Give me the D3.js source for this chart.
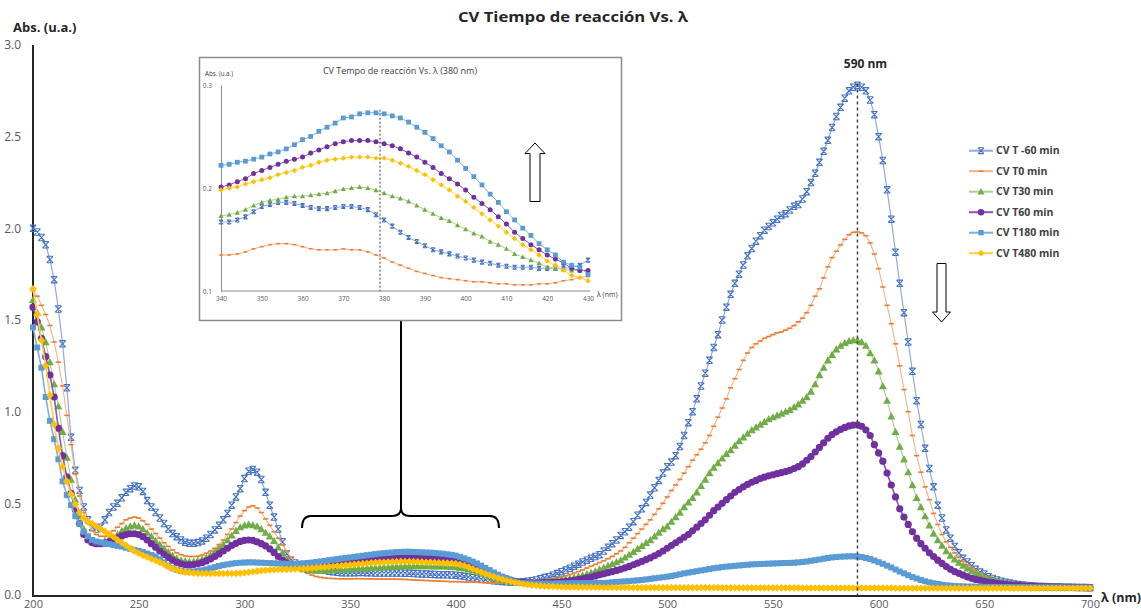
<!DOCTYPE html>
<html>
<head>
<meta charset="utf-8">
<title>CV Tiempo de reacción Vs. λ</title>
<script src="https://cdn.jsdelivr.net/npm/d3@7"></script>
<style>
  body {margin: 0; background: #fff;}
  text {font-family: "Open Sans", sans-serif;}
</style>
</head>
<body>
<script>
  // wavelengths: main spectrum 200-700 nm, inset 340-430 nm (every 2 nm)
  var wl = d3.range(200, 702, 2);
  var insetWl = d3.range(340, 432, 2);

  var xTicks = [200, 250, 300, 350, 400, 450, 500, 550, 600, 650, 700];
  var yTicks = [0, 0.5, 1.0, 1.5, 2.0, 2.5, 3.0];
  var insetXTicks = [340, 350, 360, 370, 380, 390, 400, 410, 420, 430];
  var insetYTicks = [0.1, 0.2, 0.3];

  var seriesNames = ["CV T -60 min", "CV T0 min", "CV T30 min", "CV T60 min", "CV T180 min", "CV T480 min"];

  // absorbance, main chart (rows of 20 nm)
  var absTm60 = [
    2.00, 1.98, 1.95, 1.91, 1.83, 1.72, 1.56, 1.37, 1.13, 0.86,
    0.68, 0.57, 0.48, 0.41, 0.37, 0.36, 0.37, 0.41, 0.45, 0.48,
    0.50, 0.53, 0.56, 0.58, 0.595, 0.59, 0.565, 0.515, 0.48, 0.45,
    0.42, 0.39, 0.36, 0.335, 0.318, 0.30, 0.288, 0.282, 0.282, 0.286,
    0.295, 0.31, 0.33, 0.355, 0.38, 0.41, 0.445, 0.49, 0.535, 0.58,
    0.635, 0.675, 0.685, 0.67, 0.63, 0.56, 0.49, 0.425, 0.36, 0.29,
    0.225, 0.19, 0.175, 0.165, 0.16, 0.155, 0.15, 0.145, 0.14, 0.135,
    0.13, 0.127, 0.124, 0.122, 0.121, 0.121, 0.122, 0.123, 0.123, 0.122,
    0.121, 0.12, 0.12, 0.12, 0.12, 0.12, 0.12, 0.12, 0.119, 0.118,
    0.117, 0.116, 0.115, 0.114, 0.113, 0.112, 0.111, 0.11, 0.11, 0.109,
    0.108, 0.105, 0.102, 0.098, 0.094, 0.09, 0.087, 0.084, 0.081, 0.078,
    0.076, 0.074, 0.072, 0.07, 0.07, 0.07, 0.072, 0.075, 0.078, 0.082,
    0.088, 0.095, 0.10, 0.108, 0.117, 0.127, 0.136, 0.146, 0.157, 0.168,
    0.18, 0.19, 0.20, 0.21, 0.22, 0.24, 0.26, 0.28, 0.30, 0.325,
    0.345, 0.37, 0.40, 0.435, 0.47, 0.505, 0.545, 0.585, 0.625, 0.665,
    0.70, 0.725, 0.76, 0.81, 0.87, 0.94, 1.00, 1.07, 1.14, 1.21,
    1.28, 1.35, 1.42, 1.50, 1.57, 1.64, 1.70, 1.75, 1.80, 1.85,
    1.89, 1.93, 1.96, 1.99, 2.01, 2.03, 2.05, 2.07, 2.08, 2.10,
    2.12, 2.13, 2.16, 2.20, 2.25, 2.30, 2.36, 2.42, 2.48, 2.55,
    2.61, 2.66, 2.71, 2.75, 2.77, 2.78, 2.77, 2.75, 2.70, 2.62,
    2.50, 2.37, 2.21, 2.05, 1.87, 1.70, 1.54, 1.38, 1.22, 1.06,
    0.93, 0.80, 0.69, 0.59, 0.49, 0.42, 0.355, 0.31, 0.265, 0.23,
    0.20, 0.18, 0.16, 0.14, 0.125, 0.115, 0.10, 0.09, 0.082, 0.075,
    0.07, 0.065, 0.06, 0.057, 0.054, 0.052, 0.05, 0.048, 0.047, 0.046,
    0.045, 0.044, 0.043, 0.043, 0.042, 0.042, 0.042, 0.041, 0.041, 0.041,
    0.04];

  var absT0 = [
    1.66, 1.63, 1.58, 1.53, 1.47, 1.38, 1.27, 1.14, 0.98, 0.82,
    0.66, 0.54, 0.45, 0.39, 0.35, 0.33, 0.32, 0.32, 0.33, 0.35,
    0.37, 0.39, 0.41, 0.42, 0.425, 0.42, 0.405, 0.385, 0.36, 0.335,
    0.31, 0.285, 0.265, 0.245, 0.23, 0.22, 0.213, 0.21, 0.21, 0.212,
    0.218, 0.228, 0.24, 0.255, 0.275, 0.30, 0.33, 0.36, 0.395, 0.43,
    0.46, 0.48, 0.487, 0.475, 0.45, 0.415, 0.38, 0.345, 0.31, 0.275,
    0.24, 0.205, 0.175, 0.15, 0.132, 0.118, 0.108, 0.101, 0.096, 0.093,
    0.091, 0.09, 0.089, 0.088, 0.088, 0.088, 0.089, 0.089, 0.089, 0.088,
    0.088, 0.087, 0.087, 0.087, 0.087, 0.087, 0.086, 0.086, 0.085, 0.084,
    0.082, 0.081, 0.08, 0.079, 0.078, 0.077, 0.076, 0.075, 0.074, 0.073,
    0.073, 0.072, 0.071, 0.07, 0.07, 0.069, 0.068, 0.067, 0.066, 0.066,
    0.065, 0.065, 0.066, 0.066, 0.067, 0.068, 0.07, 0.071, 0.073, 0.075,
    0.078, 0.081, 0.085, 0.089, 0.094, 0.099, 0.105, 0.112, 0.12, 0.128,
    0.137, 0.147, 0.157, 0.167, 0.177, 0.187, 0.198, 0.21, 0.225, 0.24,
    0.26, 0.285, 0.31, 0.335, 0.36, 0.385, 0.41, 0.44, 0.47, 0.50,
    0.535, 0.57, 0.60, 0.63, 0.665, 0.70, 0.735, 0.765, 0.795, 0.83,
    0.87, 0.92, 0.97, 1.02, 1.07, 1.13, 1.18, 1.23, 1.28, 1.32,
    1.35, 1.37, 1.385, 1.40, 1.41, 1.42, 1.43, 1.435, 1.445, 1.455,
    1.47, 1.49, 1.51, 1.54, 1.58, 1.63, 1.67, 1.73, 1.79, 1.84,
    1.875, 1.91, 1.94, 1.965, 1.978, 1.98, 1.975, 1.96, 1.92, 1.86,
    1.78, 1.68, 1.58, 1.48, 1.37, 1.25, 1.12, 1.00, 0.87, 0.76,
    0.67, 0.59, 0.52, 0.445, 0.385, 0.33, 0.29, 0.26, 0.23, 0.205,
    0.185, 0.165, 0.15, 0.135, 0.12, 0.105, 0.092, 0.083, 0.076, 0.07,
    0.066, 0.062, 0.059, 0.056, 0.053, 0.051, 0.049, 0.047, 0.046, 0.045,
    0.044, 0.044, 0.043, 0.043, 0.042, 0.042, 0.041, 0.041, 0.041, 0.04,
    0.04];

  var absT30 = [
    1.61, 1.54, 1.46, 1.38, 1.27, 1.15, 1.03, 0.89, 0.75, 0.63,
    0.52, 0.43, 0.36, 0.31, 0.29, 0.28, 0.285, 0.295, 0.305, 0.315,
    0.33, 0.35, 0.365, 0.375, 0.38, 0.375, 0.36, 0.34, 0.32, 0.295,
    0.275, 0.255, 0.235, 0.215, 0.20, 0.19, 0.185, 0.182, 0.183, 0.188,
    0.195, 0.205, 0.218, 0.235, 0.255, 0.275, 0.30, 0.325, 0.35, 0.37,
    0.38, 0.385, 0.382, 0.375, 0.36, 0.34, 0.32, 0.295, 0.26, 0.23,
    0.195, 0.172, 0.158, 0.148, 0.142, 0.138, 0.135, 0.134, 0.134, 0.134,
    0.135, 0.136, 0.137, 0.138, 0.14, 0.142, 0.143, 0.144, 0.146, 0.147,
    0.148, 0.149, 0.15, 0.152, 0.153, 0.155, 0.156, 0.157, 0.158, 0.158,
    0.158, 0.158, 0.158, 0.158, 0.158, 0.157, 0.157, 0.156, 0.155, 0.154,
    0.152, 0.149, 0.145, 0.14, 0.135, 0.128, 0.12, 0.112, 0.104, 0.097,
    0.09, 0.084, 0.078, 0.073, 0.07, 0.067, 0.067, 0.068, 0.069, 0.07,
    0.072, 0.074, 0.076, 0.078, 0.08, 0.083, 0.087, 0.091, 0.096, 0.102,
    0.108, 0.115, 0.123, 0.131, 0.14, 0.15, 0.16, 0.17, 0.18, 0.19,
    0.205, 0.22, 0.236, 0.252, 0.268, 0.285, 0.30, 0.32, 0.34, 0.36,
    0.375, 0.40, 0.425, 0.45, 0.48, 0.505, 0.53, 0.56, 0.595, 0.63,
    0.665, 0.695, 0.72, 0.745, 0.77, 0.79, 0.815, 0.84, 0.86, 0.88,
    0.90, 0.915, 0.93, 0.945, 0.96, 0.97, 0.98, 0.99, 1.00, 1.01,
    1.025, 1.04, 1.06, 1.08, 1.11, 1.15, 1.20, 1.24, 1.28, 1.31,
    1.34, 1.36, 1.375, 1.385, 1.39, 1.39, 1.38, 1.36, 1.32, 1.28,
    1.22, 1.14, 1.06, 0.975, 0.89, 0.81, 0.74, 0.67, 0.60, 0.53,
    0.48, 0.43, 0.38, 0.335, 0.30, 0.27, 0.24, 0.215, 0.195, 0.177,
    0.16, 0.145, 0.13, 0.118, 0.107, 0.098, 0.09, 0.083, 0.077, 0.071,
    0.067, 0.063, 0.06, 0.057, 0.054, 0.052, 0.05, 0.048, 0.047, 0.046,
    0.045, 0.044, 0.043, 0.043, 0.042, 0.042, 0.041, 0.041, 0.041, 0.04,
    0.04];

  var absT60 = [
    1.57, 1.49, 1.40, 1.30, 1.20, 1.08, 0.91, 0.76, 0.645, 0.555,
    0.465, 0.39, 0.33, 0.30, 0.285, 0.28, 0.28, 0.283, 0.29, 0.30,
    0.312, 0.322, 0.33, 0.334, 0.334, 0.33, 0.318, 0.30, 0.28, 0.26,
    0.24, 0.222, 0.205, 0.19, 0.178, 0.17, 0.165, 0.164, 0.166, 0.17,
    0.177, 0.186, 0.197, 0.21, 0.224, 0.24, 0.255, 0.27, 0.282, 0.292,
    0.298, 0.30, 0.298, 0.29, 0.28, 0.268, 0.252, 0.232, 0.21, 0.19,
    0.175, 0.165, 0.16, 0.158, 0.158, 0.16, 0.163, 0.166, 0.17, 0.173,
    0.176, 0.179, 0.181, 0.183, 0.185, 0.188, 0.19, 0.191, 0.192, 0.193,
    0.195, 0.196, 0.197, 0.198, 0.199, 0.20, 0.201, 0.202, 0.202, 0.202,
    0.201, 0.20, 0.20, 0.199, 0.199, 0.198, 0.196, 0.194, 0.192, 0.19,
    0.187, 0.182, 0.175, 0.168, 0.16, 0.151, 0.142, 0.133, 0.124, 0.115,
    0.105, 0.096, 0.088, 0.081, 0.075, 0.07, 0.068, 0.066, 0.065, 0.065,
    0.066, 0.067, 0.068, 0.069, 0.07, 0.072, 0.074, 0.077, 0.08, 0.084,
    0.088, 0.093, 0.098, 0.104, 0.11, 0.116, 0.122, 0.128, 0.134, 0.14,
    0.148, 0.156, 0.165, 0.174, 0.183, 0.193, 0.203, 0.214, 0.226, 0.24,
    0.255, 0.27, 0.285, 0.30, 0.315, 0.33, 0.35, 0.37, 0.39, 0.41,
    0.435, 0.46, 0.48, 0.50, 0.52, 0.54, 0.56, 0.575, 0.59, 0.603,
    0.615, 0.625, 0.635, 0.643, 0.65, 0.656, 0.662, 0.668, 0.673, 0.68,
    0.69, 0.70, 0.715, 0.735, 0.755, 0.78, 0.805, 0.83, 0.855, 0.875,
    0.89, 0.903, 0.914, 0.922, 0.927, 0.928, 0.92, 0.90, 0.87, 0.82,
    0.775, 0.73, 0.665, 0.60, 0.535, 0.47, 0.425, 0.385, 0.345, 0.31,
    0.28, 0.255, 0.23, 0.21, 0.19, 0.172, 0.155, 0.14, 0.128, 0.118,
    0.108, 0.099, 0.091, 0.085, 0.08, 0.075, 0.071, 0.067, 0.064, 0.061,
    0.058, 0.056, 0.054, 0.052, 0.05, 0.049, 0.048, 0.047, 0.046, 0.045,
    0.044, 0.044, 0.043, 0.043, 0.042, 0.042, 0.041, 0.041, 0.041, 0.04,
    0.04];

  var absT180 = [
    1.46, 1.35, 1.24, 1.08, 0.95, 0.85, 0.74, 0.62, 0.545, 0.49,
    0.43, 0.39, 0.345, 0.32, 0.30, 0.292, 0.287, 0.283, 0.278, 0.273,
    0.268, 0.264, 0.258, 0.252, 0.246, 0.24, 0.234, 0.226, 0.218, 0.21,
    0.195, 0.178, 0.16, 0.146, 0.137, 0.131, 0.128, 0.127, 0.128, 0.131,
    0.135, 0.14, 0.146, 0.152, 0.158, 0.163, 0.167, 0.171, 0.174, 0.176,
    0.177, 0.178, 0.178, 0.177, 0.176, 0.175, 0.174, 0.173, 0.172, 0.171,
    0.17, 0.17, 0.17, 0.171, 0.173, 0.175, 0.177, 0.18, 0.183, 0.186,
    0.19, 0.193, 0.196, 0.199, 0.202, 0.205, 0.208, 0.211, 0.214, 0.217,
    0.22, 0.223, 0.226, 0.228, 0.23, 0.232, 0.234, 0.235, 0.236, 0.236,
    0.235, 0.234, 0.233, 0.232, 0.231, 0.229, 0.227, 0.225, 0.222, 0.219,
    0.215, 0.208, 0.20, 0.192, 0.182, 0.172, 0.16, 0.148, 0.136, 0.123,
    0.111, 0.10, 0.09, 0.081, 0.073, 0.066, 0.064, 0.063, 0.062, 0.062,
    0.062, 0.062, 0.062, 0.062, 0.063, 0.063, 0.063, 0.064, 0.064, 0.064,
    0.065, 0.065, 0.065, 0.066, 0.066, 0.066, 0.067, 0.069, 0.071, 0.073,
    0.074, 0.076, 0.078, 0.08, 0.082, 0.085, 0.088, 0.091, 0.094, 0.097,
    0.10, 0.104, 0.108, 0.113, 0.118, 0.122, 0.126, 0.13, 0.134, 0.138,
    0.142, 0.146, 0.149, 0.152, 0.155, 0.157, 0.159, 0.161, 0.163, 0.165,
    0.167, 0.168, 0.169, 0.17, 0.171, 0.172, 0.173, 0.174, 0.175, 0.175,
    0.176, 0.178, 0.18, 0.183, 0.187, 0.19, 0.194, 0.198, 0.202, 0.205,
    0.207, 0.209, 0.21, 0.211, 0.211, 0.21, 0.207, 0.202, 0.196, 0.188,
    0.179, 0.17, 0.16, 0.15, 0.139, 0.128, 0.118, 0.108, 0.098, 0.09,
    0.082, 0.075, 0.069, 0.064, 0.06, 0.056, 0.053, 0.051, 0.049, 0.048,
    0.047, 0.046, 0.046, 0.045, 0.045, 0.044, 0.044, 0.044, 0.043, 0.043,
    0.043, 0.043, 0.042, 0.042, 0.042, 0.042, 0.042, 0.041, 0.041, 0.041,
    0.041, 0.041, 0.041, 0.041, 0.04, 0.04, 0.04, 0.04, 0.04, 0.04,
    0.04];

  var absT480 = [
    1.67, 1.53, 1.39, 1.25, 1.09, 0.93, 0.80, 0.70, 0.62, 0.55,
    0.495, 0.45, 0.42, 0.40, 0.39, 0.375, 0.36, 0.347, 0.333, 0.318,
    0.30, 0.285, 0.27, 0.255, 0.24, 0.228, 0.217, 0.207, 0.197, 0.188,
    0.178, 0.167, 0.155, 0.145, 0.137, 0.13, 0.125, 0.122, 0.12, 0.118,
    0.117, 0.117, 0.117, 0.117, 0.117, 0.117, 0.117, 0.117, 0.118, 0.119,
    0.121, 0.124, 0.127, 0.13, 0.133, 0.135, 0.137, 0.138, 0.139, 0.14,
    0.14, 0.141, 0.142, 0.143, 0.144, 0.145, 0.147, 0.149, 0.151, 0.153,
    0.155, 0.157, 0.159, 0.161, 0.163, 0.165, 0.167, 0.169, 0.171, 0.173,
    0.175, 0.177, 0.178, 0.179, 0.18, 0.181, 0.182, 0.183, 0.183, 0.183,
    0.182, 0.181, 0.18, 0.179, 0.178, 0.177, 0.176, 0.175, 0.174, 0.173,
    0.171, 0.166, 0.16, 0.152, 0.143, 0.134, 0.125, 0.116, 0.108, 0.10,
    0.093, 0.086, 0.079, 0.073, 0.068, 0.064, 0.06, 0.057, 0.054, 0.052,
    0.05, 0.048, 0.047, 0.046, 0.045, 0.044, 0.044, 0.043, 0.043, 0.043,
    0.042, 0.042, 0.042, 0.042, 0.042, 0.041, 0.041, 0.041, 0.041, 0.041,
    0.041, 0.041, 0.04, 0.04, 0.04, 0.04, 0.04, 0.04, 0.04, 0.04,
    0.04, 0.04, 0.04, 0.04, 0.04, 0.04, 0.04, 0.04, 0.04, 0.04,
    0.04, 0.04, 0.04, 0.039, 0.039, 0.039, 0.039, 0.039, 0.039, 0.039,
    0.039, 0.039, 0.039, 0.039, 0.039, 0.039, 0.039, 0.039, 0.039, 0.039,
    0.039, 0.039, 0.038, 0.038, 0.038, 0.038, 0.038, 0.038, 0.038, 0.038,
    0.038, 0.038, 0.038, 0.038, 0.038, 0.038, 0.038, 0.038, 0.038, 0.038,
    0.038, 0.038, 0.038, 0.038, 0.037, 0.037, 0.037, 0.037, 0.037, 0.037,
    0.037, 0.037, 0.037, 0.037, 0.037, 0.037, 0.037, 0.037, 0.037, 0.037,
    0.037, 0.037, 0.037, 0.037, 0.037, 0.037, 0.037, 0.037, 0.037, 0.037,
    0.037, 0.037, 0.037, 0.037, 0.037, 0.037, 0.037, 0.037, 0.037, 0.037,
    0.037, 0.037, 0.037, 0.037, 0.037, 0.037, 0.037, 0.037, 0.037, 0.037,
    0.037];

  // absorbance, inset 340-430 nm
  var insTm60 = [
    0.167, 0.167, 0.169, 0.172, 0.177, 0.182, 0.184, 0.186, 0.186, 0.185,
    0.183, 0.181, 0.180, 0.180, 0.181, 0.182, 0.182, 0.181, 0.179, 0.174,
    0.169, 0.163, 0.157, 0.152, 0.148, 0.144, 0.140, 0.138, 0.136, 0.134,
    0.132, 0.130, 0.128, 0.127, 0.125, 0.124, 0.123, 0.123, 0.123, 0.122,
    0.122, 0.122, 0.122, 0.123, 0.125, 0.130];
  var insT0 = [
    0.135, 0.135, 0.136, 0.138, 0.141, 0.143, 0.145, 0.146, 0.146, 0.145,
    0.143, 0.141, 0.140, 0.140, 0.140, 0.141, 0.140, 0.140, 0.138, 0.135,
    0.132, 0.128, 0.125, 0.122, 0.119, 0.117, 0.115, 0.113, 0.112, 0.111,
    0.110, 0.109, 0.109, 0.108, 0.107, 0.107, 0.106, 0.106, 0.106, 0.107,
    0.107, 0.108, 0.110, 0.111, 0.113, 0.114];
  var insT30 = [
    0.173, 0.174, 0.176, 0.179, 0.183, 0.186, 0.188, 0.189, 0.191, 0.192,
    0.192, 0.193, 0.194, 0.195, 0.197, 0.199, 0.200, 0.201, 0.200, 0.198,
    0.195, 0.192, 0.190, 0.187, 0.183, 0.179, 0.175, 0.171, 0.168, 0.164,
    0.160, 0.156, 0.153, 0.148, 0.145, 0.141, 0.136, 0.133, 0.130, 0.127,
    0.123, 0.122, 0.121, 0.120, 0.120, 0.120];
  var insT60 = [
    0.201, 0.203, 0.206, 0.209, 0.214, 0.217, 0.220, 0.223, 0.226, 0.228,
    0.230, 0.234, 0.237, 0.240, 0.243, 0.245, 0.246, 0.246, 0.246, 0.245,
    0.243, 0.241, 0.238, 0.234, 0.230, 0.225, 0.220, 0.214, 0.209, 0.204,
    0.198, 0.191, 0.185, 0.179, 0.172, 0.165, 0.157, 0.151, 0.145, 0.140,
    0.135, 0.131, 0.127, 0.122, 0.120, 0.120];
  var insT180 = [
    0.222, 0.223, 0.225, 0.226, 0.228, 0.230, 0.233, 0.235, 0.238, 0.242,
    0.247, 0.250, 0.255, 0.259, 0.263, 0.268, 0.269, 0.272, 0.273, 0.273,
    0.272, 0.270, 0.268, 0.264, 0.259, 0.254, 0.248, 0.241, 0.235, 0.227,
    0.219, 0.211, 0.203, 0.194, 0.186, 0.177, 0.169, 0.161, 0.154, 0.146,
    0.140, 0.135, 0.128, 0.125, 0.123, 0.116];
  var insT480 = [
    0.198, 0.200, 0.201, 0.204, 0.206, 0.208, 0.210, 0.213, 0.215, 0.217,
    0.220, 0.222, 0.225, 0.227, 0.228, 0.229, 0.230, 0.230, 0.230, 0.229,
    0.229, 0.227, 0.224, 0.221, 0.217, 0.213, 0.208, 0.203, 0.198, 0.192,
    0.187, 0.181, 0.175, 0.169, 0.163, 0.157, 0.151, 0.145, 0.140, 0.135,
    0.129, 0.125, 0.120, 0.115, 0.113, 0.110];

  var mainSeries = [absTm60, absT0, absT30, absT60, absT180, absT480];
  var insetSeries = [insTm60, insT0, insT30, insT60, insT180, insT480];

  // styles per series
  var lineColors = ["#8FAADC", "#F4B183", "#A9D18E", "#8A55B8", "#7DB0E0", "#FFCF40"];
  var lineWidths = [1.2, 1.1, 1.1, 1.6, 1.6, 1.6];
  var markerColors = ["#4472C4", "#ED7D31", "#70AD47", "#7030A0", "#5B9BD5", "#FFC000"];
  var markerShapes = ["x", "dash", "triangle", "circle", "square", "diamond"];
  var mainSizes = [3.2, 2.6, 4.0, 3.6, 3.0, 3.8];
  var insetSizes = [2.0, 1.8, 2.6, 2.5, 2.4, 2.7];

  var width = 1141;
  var height = 613;

  var x = d3.scaleLinear().domain([200, 700]).range([33, 1090]);
  var y = d3.scaleLinear().domain([0, 3]).range([595, 45]);

  var ix = d3.scaleLinear().domain([340, 430]).range([221, 588]);
  var iy = d3.scaleLinear().domain([0.1, 0.3]).range([291, 85]);

  function shapePath(shape, s) {
    if (shape === "x") return "M" + (-s) + "," + (-s) + "L" + s + "," + s + "M" + s + "," + (-s) + "L" + (-s) + "," + s +
                              "M" + (-s) + "," + (-s) + "H" + s + "M" + (-s) + "," + s + "H" + s;
    if (shape === "dash") return "M" + (-s) + ",-0.8H" + s + "V0.8H" + (-s) + "Z";
    if (shape === "triangle") return "M0," + (-s) + "L" + s + "," + (s * 0.8) + "H" + (-s) + "Z";
    if (shape === "circle") return d3.symbol(d3.symbolCircle, Math.PI * s * s)();
    if (shape === "square") return "M" + (-s) + "," + (-s) + "H" + s + "V" + s + "H" + (-s) + "Z";
    return "M0," + (-s) + "L" + s + ",0L0," + s + "L" + (-s) + ",0Z";
  }

  function styleMarker(sel, i) {
    if (markerShapes[i] === "x") {
      sel.attr("fill", "none").attr("stroke", markerColors[i]).attr("stroke-width", 1.1);
    } else {
      sel.attr("fill", markerColors[i]).attr("stroke", "none");
    }
  }

  var svg = d3.select("body").append("svg")
    .attr("width", width)
    .attr("height", height)
    .style("display", "block")
    .style("background", "#fff");

  // title
  svg.append("text")
    .attr("x", 573).attr("y", 22)
    .attr("text-anchor", "middle")
    .attr("font-size", 15).attr("font-weight", "bold")
    .attr("fill", "#262626")
    .attr("textLength", 230).attr("lengthAdjust", "spacingAndGlyphs")
    .text("CV Tiempo de reacción Vs. λ");

  svg.append("text")
    .attr("x", 13).attr("y", 32)
    .attr("font-size", 13).attr("font-weight", "bold")
    .attr("fill", "#262626")
    .text("Abs. (u.a.)");

  // axes
  var yAxis = svg.append("g")
    .attr("transform", "translate(33,0)")
    .call(d3.axisLeft(y).tickValues(yTicks).tickSize(0).tickSizeOuter(0).tickPadding(12).tickFormat(d3.format(".1f")));
  var xAxis = svg.append("g")
    .attr("transform", "translate(0,596)")
    .call(d3.axisBottom(x).tickValues(xTicks).tickSize(0).tickSizeOuter(0).tickPadding(4));

  [xAxis, yAxis].forEach(function (ax) {
    ax.select(".domain").attr("stroke", "#262626").attr("stroke-width", 2);
    ax.selectAll("text").attr("font-size", 12).attr("fill", "#595959").attr("font-family", "Open Sans, sans-serif");
  });
  xAxis.selectAll("text").attr("font-size", 11);
  yAxis.select(".domain").attr("d", "M0,45V597");
  xAxis.select(".domain").attr("d", "M32,0H1092");

  svg.append("text")
    .attr("x", 1101).attr("y", 602)
    .attr("font-size", 12.5).attr("font-weight", "bold")
    .attr("fill", "#262626")
    .text("λ (nm)");

  // main series
  var mainLine = d3.line()
    .x(function (d, i) { return x(wl[i]); })
    .y(function (d) { return y(d); });

  mainSeries.forEach(function (vals, s) {
    var g = svg.append("g").attr("class", "series");
    g.append("path")
      .attr("d", mainLine(vals))
      .attr("fill", "none")
      .attr("stroke", lineColors[s])
      .attr("stroke-width", lineWidths[s]);
    g.selectAll("path.mk").data(vals).join("path")
      .attr("class", "mk")
      .attr("d", shapePath(markerShapes[s], mainSizes[s]))
      .attr("transform", function (d, i) { return "translate(" + x(wl[i]) + "," + y(d) + ")"; })
      .call(styleMarker, s);
  });

  // 590 nm marker line
  svg.append("line")
    .attr("x1", x(590)).attr("x2", x(590))
    .attr("y1", y(2.79)).attr("y2", y(0))
    .attr("stroke", "#404040").attr("stroke-width", 1.5)
    .attr("stroke-dasharray", "3,3");
  svg.append("text")
    .attr("x", x(590) + 8).attr("y", 68)
    .attr("text-anchor", "middle")
    .attr("font-size", 12).attr("font-weight", "bold")
    .attr("fill", "#262626")
    .text("590 nm");

  // legend
  var legend = svg.append("g").attr("transform", "translate(969,150.7)");
  seriesNames.forEach(function (name, s) {
    var row = legend.append("g").attr("transform", "translate(0," + (s * 20.5) + ")");
    row.append("line")
      .attr("x1", 0).attr("x2", 24).attr("y1", 0).attr("y2", 0)
      .attr("stroke", lineColors[s]).attr("stroke-width", 2);
    row.append("path")
      .attr("d", shapePath(markerShapes[s], mainSizes[s] * 0.9))
      .attr("transform", "translate(12,0)")
      .call(styleMarker, s);
    row.append("text")
      .attr("x", 27).attr("y", 0).attr("dy", "0.35em")
      .attr("font-size", 10.5).attr("font-weight", "bold")
      .attr("fill", "#404040")
      .text(name);
  });

  // down arrow
  svg.append("path")
    .attr("d", "M937,263.5L946,263.5L946,312L950.5,312L941.5,322L932.5,312L937,312Z")
    .attr("fill", "#fff").attr("stroke", "#000").attr("stroke-width", 1);

  // bracket joining the inset to the 340-430 nm region
  svg.append("line")
    .attr("x1", 401).attr("x2", 401).attr("y1", 321).attr("y2", 509)
    .attr("stroke", "#000").attr("stroke-width", 2);
  svg.append("path")
    .attr("d", "M302,528Q302,516,311,516L392,516Q401,516,401,508Q401,516,410,516L490,516Q499,516,499,528")
    .attr("fill", "none").attr("stroke", "#000").attr("stroke-width", 2);

  // ---------- inset ----------
  var inset = svg.append("g").attr("class", "inset");
  inset.append("rect")
    .attr("x", 199.5).attr("y", 57.5).attr("width", 422).attr("height", 263)
    .attr("fill", "#fff").attr("stroke", "#8c8c8c").attr("stroke-width", 1.5);

  inset.append("text")
    .attr("x", 400).attr("y", 74)
    .attr("text-anchor", "middle")
    .attr("font-size", 9).attr("fill", "#404040")
    .text("CV Tempo de reacción Vs. λ (380 nm)");
  inset.append("text")
    .attr("x", 205).attr("y", 75.5)
    .attr("font-size", 6.2).attr("fill", "#404040")
    .text("Abs. (u.a.)");
  inset.append("text")
    .attr("x", 597).attr("y", 297)
    .attr("font-size", 7).attr("fill", "#404040")
    .text("λ (nm)");

  var iyAxis = inset.append("g")
    .attr("transform", "translate(221,0)")
    .call(d3.axisLeft(iy).tickValues(insetYTicks).tickSize(0).tickSizeOuter(0).tickPadding(9).tickFormat(d3.format(".1f")));
  var ixAxis = inset.append("g")
    .attr("transform", "translate(0,291)")
    .call(d3.axisBottom(ix).tickValues(insetXTicks).tickSize(0).tickSizeOuter(0).tickPadding(5));
  [iyAxis, ixAxis].forEach(function (ax) {
    ax.select(".domain").attr("stroke", "#8c8c8c").attr("stroke-width", 1);
    ax.selectAll("text").attr("font-size", 6.5).attr("fill", "#595959").attr("font-family", "Open Sans, sans-serif");
  });
  ixAxis.select(".domain").attr("d", "M221,0H590");

  var insetLine = d3.line()
    .x(function (d, i) { return ix(insetWl[i]); })
    .y(function (d) { return iy(d); });

  insetSeries.forEach(function (vals, s) {
    var g = inset.append("g");
    g.append("path")
      .attr("d", insetLine(vals))
      .attr("fill", "none")
      .attr("stroke", lineColors[s])
      .attr("stroke-width", 1);
    g.selectAll("path.mk").data(vals).join("path")
      .attr("class", "mk")
      .attr("d", shapePath(markerShapes[s], insetSizes[s]))
      .attr("transform", function (d, i) { return "translate(" + ix(insetWl[i]) + "," + iy(d) + ")"; })
      .call(styleMarker, s);
  });

  inset.append("line")
    .attr("x1", ix(379)).attr("x2", ix(379))
    .attr("y1", iy(0.276)).attr("y2", iy(0.1))
    .attr("stroke", "#404040").attr("stroke-width", 1)
    .attr("stroke-dasharray", "2,2");

  // up arrow in inset
  inset.append("path")
    .attr("d", "M530,201.5L540,201.5L540,153.5L545,153.5L535,143L525,153.5L530,153.5Z")
    .attr("fill", "#fff").attr("stroke", "#000").attr("stroke-width", 1);
</script>
</body>
</html>
